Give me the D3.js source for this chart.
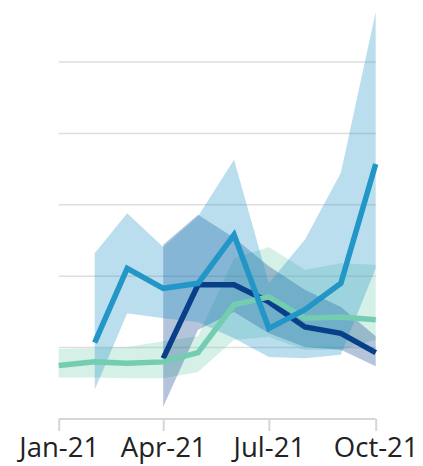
<!DOCTYPE html>
<html>
<head>
<meta charset="utf-8">
<script src="https://cdn.jsdelivr.net/npm/d3@7"></script>
<style>
  body { margin: 0; background: #fff; }
  svg { display: block; }
  .tick text { font-family: "Open Sans", sans-serif; }
</style>
</head>
<body>
<div id="chart"></div>
<script>
"use strict";

// months of 2021
var months = ["2021-01", "2021-02", "2021-03", "2021-04", "2021-05",
              "2021-06", "2021-07", "2021-08", "2021-09", "2021-10"];
var tickMonths = ["2021-01", "2021-04", "2021-07", "2021-10"];

// light blue series (Feb - Oct)
var blueMonths = months.slice(1);
var blueValues = [1.07, 2.11, 1.83, 1.90, 2.58, 1.27, 1.53, 1.90, 3.57];
var blueUpper  = [2.32, 2.88, 2.41, 2.84, 3.63, 1.90, 2.51, 3.45, 5.70];
var blueLower  = [0.41, 1.48, 1.41, 1.36, 1.13, 0.87, 0.85, 0.90, 2.11];

// navy series (Apr - Oct)
var navyMonths = months.slice(3);
var navyValues = [0.85, 1.88, 1.88, 1.64, 1.29, 1.20, 0.93];
var navyUpper  = [2.44, 2.86, 2.54, 2.14, 1.81, 1.57, 1.16];
var navyLower  = [0.17, 1.25, 1.50, 1.20, 1.01, 0.97, 0.74];

// green series (Jan - Oct)
var greenMonths = months;
var greenValues = [0.75, 0.80, 0.78, 0.80, 0.93, 1.60, 1.71, 1.41, 1.43, 1.39];
var greenUpper  = [0.98, 0.99, 1.01, 1.09, 1.16, 2.25, 2.41, 2.09, 2.18, 2.16];
var greenLower  = [0.58, 0.58, 0.57, 0.57, 0.66, 1.11, 1.15, 0.97, 0.97, 1.11];

var yTicks = [1, 2, 3, 4, 5];

var width = 423, height = 466;
var parse = d3.timeParse("%Y-%m");

var svg = d3.select("#chart").append("svg")
    .attr("width", width)
    .attr("height", height);

var x = d3.scaleTime()
    .domain([parse(months[0]), parse(months[months.length - 1])])
    .range([58.7, 375.7]);

var y = d3.scaleLinear()
    .domain([0, 5])
    .range([419, 62]);

// gridlines
svg.append("g")
    .selectAll("line")
    .data(yTicks)
    .enter()
    .append("line")
    .attr("x1", x.range()[0])
    .attr("x2", x.range()[1])
    .attr("y1", function (d) { return y(d); })
    .attr("y2", function (d) { return y(d); })
    .attr("stroke", "#dedede")
    .attr("stroke-width", 1.5);

// build rows for each series
function rows(ms, vals, up, lo) {
    return ms.map(function (m, i) {
        return { date: parse(m), v: vals[i], hi: up[i], lo: lo[i] };
    });
}

var series = [
    { name: "navy",  color: "#083f88", bandOpacity: 0.3,
      data: rows(navyMonths, navyValues, navyUpper, navyLower) },
    { name: "green", color: "#74cdb0", bandOpacity: 0.3,
      data: rows(greenMonths, greenValues, greenUpper, greenLower) },
    { name: "blue",  color: "#2196c7", bandOpacity: 0.31,
      data: rows(blueMonths, blueValues, blueUpper, blueLower) }
];

var area = d3.area()
    .x(function (d) { return x(d.date); })
    .y0(function (d) { return y(d.lo); })
    .y1(function (d) { return y(d.hi); });

var line = d3.line()
    .x(function (d) { return x(d.date); })
    .y(function (d) { return y(d.v); });

// bands
svg.append("g")
    .selectAll("path")
    .data([series[1], series[0], series[2]])
    .enter()
    .append("path")
    .attr("d", function (s) { return area(s.data); })
    .attr("fill", function (s) { return s.color; })
    .attr("fill-opacity", function (s) { return s.bandOpacity; });

// lines
svg.append("g")
    .selectAll("path")
    .data(series)
    .enter()
    .append("path")
    .attr("d", function (s) { return line(s.data); })
    .attr("fill", "none")
    .attr("stroke", function (s) { return s.color; })
    .attr("stroke-width", 5.5);

// x axis
var xAxis = d3.axisBottom(x)
    .tickValues(tickMonths.map(parse))
    .tickFormat(d3.timeFormat("%b-%y"))
    .tickSize(12)
    .tickPadding(6);

var gx = svg.append("g")
    .attr("transform", "translate(0,419)")
    .call(xAxis);

gx.select(".domain")
    .attr("stroke", "#d6d6d6")
    .attr("stroke-width", 2)
    .attr("d", "M" + x.range()[0] + ",0H" + x.range()[1]);
gx.selectAll(".tick line")
    .attr("stroke", "#d6d6d6")
    .attr("stroke-width", 2);
gx.selectAll(".tick text")
    .attr("fill", "#222")
    .attr("font-size", 27.5);
</script>
</body>
</html>
